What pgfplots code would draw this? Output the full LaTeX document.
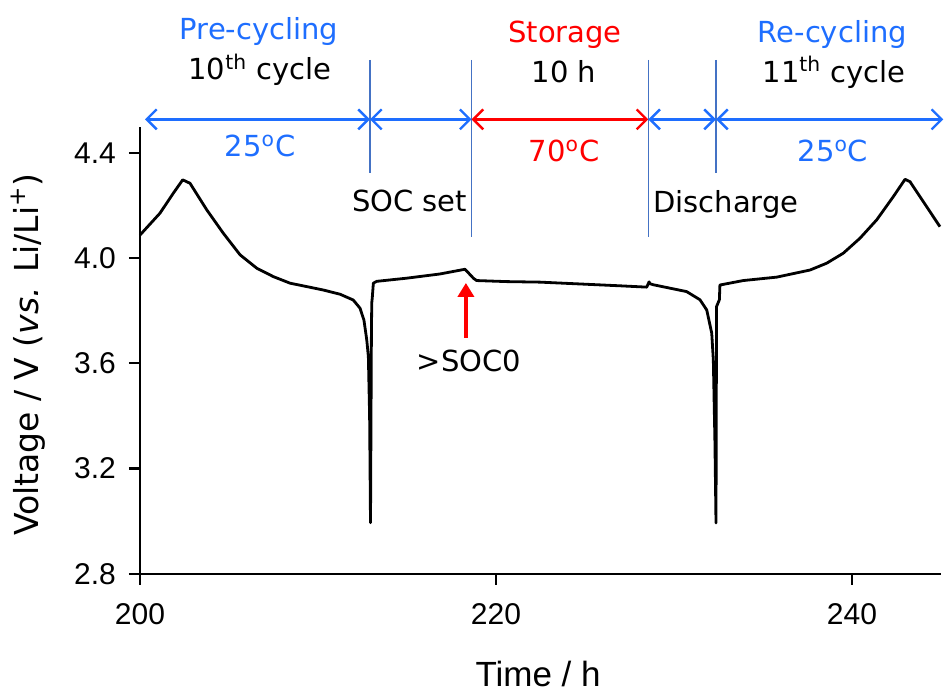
\documentclass[border=0pt]{standalone}
\usepackage{pgfplots}
\pgfplotsset{compat=1.18}
\usepackage{fontspec}
\setmainfont{DejaVu Sans}
\newfontfamily\arialfont{Liberation Sans}
\usetikzlibrary{arrows.meta}
\definecolor{cblue}{RGB}{30,110,255}
\definecolor{lineblue}{RGB}{68,114,196}
\definecolor{cred}{RGB}{255,0,0}

\begin{document}
\begin{tikzpicture}[
  dbl/.style={line width=1.2pt, {Straight Barb[length=5pt,width=10pt]}-{Straight Barb[length=5pt,width=10pt]}},
  ann/.style={anchor=base, inner sep=0pt, font=\fontsize{14.5}{17}\selectfont},
  sep/.style={lineblue, line width=0.7pt}
]
\begin{axis}[
  scale only axis, width=400.5pt, height=223.5pt,
  xmin=200, xmax=245, ymin=2.8, ymax=4.5,
  axis lines=left, axis line style={-, line width=1.2pt},
  tick align=outside, major tick length=5.5pt,
  tick style={line width=1.1pt, black},
  xtick={200,220,240}, ytick={2.8,3.2,3.6,4.0,4.4},
  yticklabel style={/pgf/number format/fixed, /pgf/number format/precision=1, /pgf/number format/fixed zerofill, xshift=-3pt},
  xticklabel style={yshift=-6pt},
  /pgf/number format/assume math mode=true,
  ticklabel style={font=\arialfont\fontsize{15}{17}\selectfont},
  clip=false,
  xlabel={Time / h},
  ylabel={Voltage / V (\textit{vs.} Li/Li\textsuperscript{+})},
  xlabel style={at={(axis description cs:0.497,0)}, anchor=north, inner sep=0pt, yshift=-43.5pt, font=\arialfont\fontsize{17.5}{20}\selectfont},
  ylabel style={at={(axis description cs:-0.118,0.49)}, anchor=south, inner sep=0pt, font=\fontsize{16.5}{19}\selectfont},
]
% page frame
\path (axis cs:192.135,2.325) rectangle (axis cs:245.45,4.982);

\addplot[black, line width=1.4pt, line join=round] coordinates {
(200.00,4.088) (201.12,4.171) (201.87,4.247) (202.40,4.298) (202.81,4.285)
(203.75,4.184) (204.68,4.095) (205.62,4.013) (206.56,3.962) (207.49,3.930)
(208.43,3.905) (209.37,3.892) (210.30,3.879) (211.24,3.863) (211.98,3.841)
(212.36,3.810) (212.58,3.765) (212.74,3.689) (212.83,3.626) (212.90,3.400)
(212.95,2.994) (213.00,3.700) (213.02,3.830) (213.05,3.850) (213.11,3.905)
(213.30,3.912) (214.98,3.924) (216.85,3.940) (218.26,3.958) (218.73,3.924)
(218.91,3.915) (220.60,3.911) (222.47,3.909) (226.97,3.895) (228.47,3.890)
(228.60,3.910) (228.65,3.903) (228.84,3.899) (230.71,3.873) (231.46,3.842)
(231.84,3.803) (232.12,3.715) (232.21,3.613) (232.30,3.300) (232.36,2.993)
(232.39,3.816) (232.55,3.842) (232.58,3.898) (233.89,3.915) (235.77,3.928)
(237.64,3.955) (238.58,3.981) (239.51,4.019) (240.45,4.076) (241.39,4.146)
(242.32,4.234) (242.98,4.300) (243.26,4.291) (244.94,4.120)
};

% phase separators
\draw[sep] (axis cs:212.92,4.754) -- (axis cs:212.92,4.324);
\draw[sep] (axis cs:218.63,4.754) -- (axis cs:218.63,4.081);
\draw[sep] (axis cs:228.56,4.754) -- (axis cs:228.56,4.081);
\draw[sep] (axis cs:232.36,4.754) -- (axis cs:232.36,4.324);

% duration arrows
\draw[dbl, cblue] (axis cs:200.28,4.528) -- (axis cs:212.92,4.528);
\draw[dbl, cblue] (axis cs:212.92,4.528) -- (axis cs:218.63,4.528);
\draw[dbl, cred] (axis cs:218.63,4.528) -- (axis cs:228.56,4.528);
\draw[dbl, cblue] (axis cs:228.56,4.528) -- (axis cs:232.36,4.528);
\draw[dbl, cblue] (axis cs:232.36,4.528) -- (axis cs:245.13,4.528);

% labels
\node[ann, cblue] at (axis cs:206.69,4.833) {Pre-cycling};
\node[ann] at (axis cs:206.74,4.678) {10\textsuperscript{th} cycle};
\node[ann, cblue] at (axis cs:206.74,4.385) {25\textsuperscript{o}C};
\node[ann] at (axis cs:215.15,4.176) {SOC set};
\node[ann, cred] at (axis cs:223.88,4.822) {Storage};
\node[ann] at (axis cs:223.82,4.670) {10 h};
\node[ann, cred] at (axis cs:223.82,4.366) {70\textsuperscript{o}C};
\node[ann] at (axis cs:232.91,4.172) {Discharge};
\node[ann, cblue] at (axis cs:238.90,4.822) {Re-cycling};
\node[ann] at (axis cs:238.99,4.670) {11\textsuperscript{th} cycle};
\node[ann, cblue] at (axis cs:238.93,4.366) {25\textsuperscript{o}C};
\node[ann] at (axis cs:218.48,3.569) {>SOC0};
\draw[cred, line width=2pt, -{Triangle[length=7pt,width=8pt]}] (axis cs:218.31,3.697) -- (axis cs:218.31,3.906);
\end{axis}
\end{tikzpicture}
\end{document}
